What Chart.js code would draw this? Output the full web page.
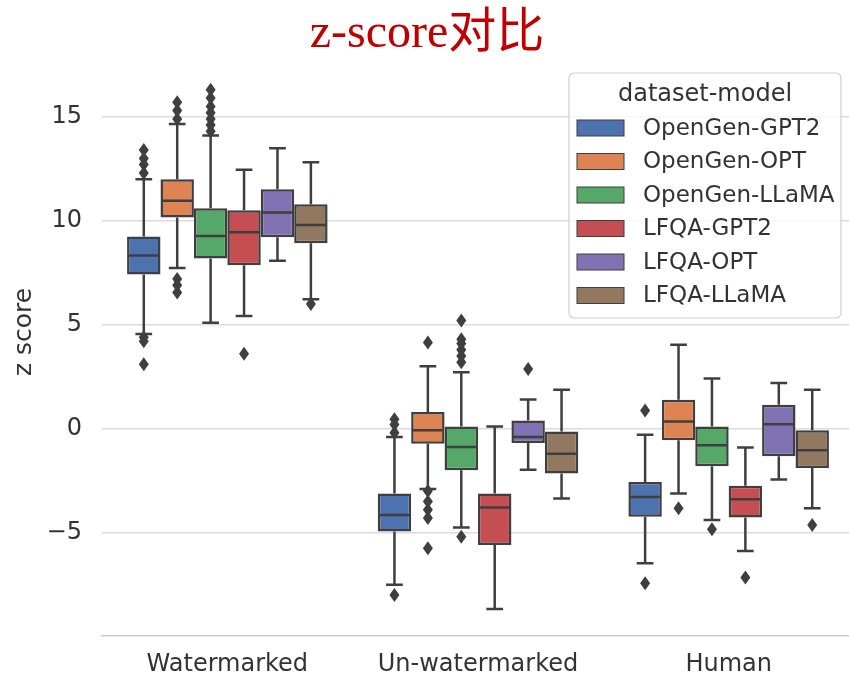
<!DOCTYPE html>
<html>
<head>
<meta charset="utf-8">
<script src="https://cdn.jsdelivr.net/npm/chart.js@4.4.1/dist/chart.umd.min.js"></script>
<style>
  html, body { margin: 0; padding: 0; background: #fff; overflow: hidden; }
  #wrap { width: 856px; height: 675px; position: relative; }
</style>
</head>
<body>
<div id="wrap"><canvas id="boxChart"></canvas></div>
<script>
// categories and hue series
const categories = ["Watermarked", "Un-watermarked", "Human"];
const seriesNames = ["OpenGen-GPT2", "OpenGen-OPT", "OpenGen-LLaMA", "LFQA-GPT2", "LFQA-OPT", "LFQA-LLaMA"];
const seriesColors = ["#4C72B0", "#DD8452", "#55A868", "#C44E52", "#8172B3", "#937860"];

// box statistics, [series][category]
const q1 = [
  [7.41, -4.95, -4.24],
  [10.16, -0.72, -0.56],
  [8.18, -2.0, -1.81],
  [7.86, -5.59, -4.27],
  [9.21, -0.69, -1.33],
  [8.92, -2.16, -1.89]
];
const median = [
  [8.33, -4.15, -3.28],
  [10.96, -0.08, 0.35],
  [9.27, -0.88, -0.8],
  [9.45, -3.79, -3.39],
  [10.4, -0.4, 0.21],
  [9.8, -1.2, -1.04]
];
const q3 = [
  [9.24, -3.12, -2.56],
  [12.0, 0.8, 1.39],
  [10.6, 0.11, 0.11],
  [10.5, -3.12, -2.75],
  [11.52, 0.4, 1.15],
  [10.8, -0.13, -0.08]
];
const whiskerLow = [
  [4.55, -7.5, -6.47],
  [7.73, -2.9, -3.12],
  [5.1, -4.75, -4.39],
  [5.42, -8.67, -5.88],
  [8.08, -1.97, -2.44],
  [6.22, -3.36, -3.83]
];
const whiskerHigh = [
  [12.0, -0.4, -0.29],
  [14.65, 3.0, 4.04],
  [14.1, 2.71, 2.42],
  [12.45, 0.11, -0.91],
  [13.49, 1.4, 2.2],
  [12.82, 1.87, 1.87]
];
const outliers = [
  [[12.3, 12.7, 13.0, 13.4, 4.4, 4.2, 3.1], [-0.2, 0.2, 0.45, -8.0], [0.88, -7.43]],
  [[14.9, 15.3, 15.7, 7.2, 6.9, 6.55], [4.15, -3.0, -3.5, -3.9, -4.3, -5.75], [-3.83]],
  [[14.3, 14.6, 14.9, 15.2, 15.5, 15.9, 16.3], [3.2, 3.5, 3.8, 4.1, 4.3, 5.2, -5.2], [-4.84]],
  [[3.6], [], [-7.16]],
  [[], [2.87], []],
  [[6.0], [], [-4.63]]
];
const yTicks = [-5, 0, 5, 10, 15];

const lineColor = "#3f3f3f";
const font = "'DejaVu Sans', sans-serif";

// whiskers, caps, medians and fliers on top of the floating bars
const boxExtras = {
  id: "boxExtras",
  afterDatasetsDraw(chart) {
    const ctx = chart.ctx;
    const y = chart.scales.y;
    ctx.save();
    ctx.strokeStyle = lineColor;
    ctx.fillStyle = lineColor;
    ctx.lineWidth = 2.5;
    chart.data.datasets.forEach((ds, s) => {
      const meta = chart.getDatasetMeta(s);
      meta.data.forEach((bar, c) => {
        const { x, width } = bar.getProps(["x", "width"], true);
        const half = width / 2;
        const cap = width / 4;
        const yq1 = y.getPixelForValue(q1[s][c]);
        const yq3 = y.getPixelForValue(q3[s][c]);
        const ylo = y.getPixelForValue(whiskerLow[s][c]);
        const yhi = y.getPixelForValue(whiskerHigh[s][c]);
        const ymed = y.getPixelForValue(median[s][c]);
        ctx.beginPath();
        ctx.moveTo(x, yq3); ctx.lineTo(x, yhi);
        ctx.moveTo(x, yq1); ctx.lineTo(x, ylo);
        ctx.moveTo(x - cap, yhi); ctx.lineTo(x + cap, yhi);
        ctx.moveTo(x - cap, ylo); ctx.lineTo(x + cap, ylo);
        ctx.moveTo(x - half + 1, ymed); ctx.lineTo(x + half - 1, ymed);
        ctx.stroke();
        outliers[s][c].forEach(v => {
          const py = y.getPixelForValue(v);
          ctx.beginPath();
          ctx.moveTo(x, py - 7);
          ctx.lineTo(x + 5, py);
          ctx.lineTo(x, py + 7);
          ctx.lineTo(x - 5, py);
          ctx.closePath();
          ctx.fill();
        });
      });
    });
    ctx.restore();
  }
};

// y axis title and the legend box
const decorations = {
  id: "decorations",
  afterDraw(chart) {
    const ctx = chart.ctx;
    ctx.save();
    ctx.fillStyle = "#333333";
    ctx.font = "25px " + font;
    ctx.textAlign = "center";
    ctx.textBaseline = "middle";
    ctx.translate(24, 332);
    ctx.rotate(-Math.PI / 2);
    ctx.fillText("z score", 0, 0);
    ctx.restore();

    // legend
    const lx = 569, ly = 73, lw = 272, lh = 245, r = 5;
    ctx.save();
    ctx.beginPath();
    ctx.moveTo(lx + r, ly);
    ctx.arcTo(lx + lw, ly, lx + lw, ly + lh, r);
    ctx.arcTo(lx + lw, ly + lh, lx, ly + lh, r);
    ctx.arcTo(lx, ly + lh, lx, ly, r);
    ctx.arcTo(lx, ly, lx + lw, ly, r);
    ctx.closePath();
    ctx.fillStyle = "rgba(255,255,255,0.8)";
    ctx.fill();
    ctx.strokeStyle = "#d0d0d0";
    ctx.lineWidth = 1.2;
    ctx.stroke();

    ctx.fillStyle = "#333333";
    ctx.font = "24px " + font;
    ctx.textAlign = "center";
    ctx.textBaseline = "middle";
    ctx.fillText("dataset-model", 705, 95);

    ctx.font = "23px " + font;
    ctx.textAlign = "left";
    chart.data.datasets.forEach((ds, i) => {
      const cy = 128 + i * 33.5;
      ctx.fillStyle = ds.backgroundColor;
      ctx.fillRect(577, cy - 8, 47, 16);
      ctx.strokeStyle = lineColor;
      ctx.lineWidth = 1;
      ctx.strokeRect(577, cy - 8, 47, 16);
      ctx.fillStyle = "#333333";
      ctx.fillText(ds.label, 643, cy + 1);
    });
    ctx.restore();
  }
};

const datasets = seriesNames.map((name, s) => ({
  label: name,
  data: categories.map((cat, c) => [q1[s][c], q3[s][c]]),
  backgroundColor: seriesColors[s],
  borderColor: lineColor,
  borderWidth: 2.5,
  borderSkipped: false,
  categoryPercentage: 0.8,
  barPercentage: 1.0
}));

new Chart(document.getElementById("boxChart").getContext("2d"), {
  type: "bar",
  data: { labels: categories, datasets },
  plugins: [boxExtras, decorations],
  options: {
    responsive: true,
    maintainAspectRatio: false,
    animation: false,
    layout: { padding: { top: 6, right: 2, bottom: 0, left: 0 } },
    plugins: {
      legend: { display: false },
      tooltip: { enabled: false },
      title: {
        display: true,
        text: "z-score对比",
        color: "#c00000",
        font: { family: "'Liberation Serif', 'Noto Sans CJK SC', serif", size: 48, weight: "normal" },
        padding: { top: 0, bottom: 6 }
      }
    },
    scales: {
      x: {
        afterFit: axis => { axis.height = 39; },
        grid: { display: false, drawTicks: false },
        border: { display: true, color: "#cccccc", width: 1.5 },
        ticks: { color: "#333333", font: { family: font, size: 24 }, padding: 14 }
      },
      y: {
        min: -9.97,
        max: 17.27,
        afterBuildTicks: axis => { axis.ticks = yTicks.map(v => ({ value: v })); },
        afterFit: axis => { axis.width = 102; },
        grid: { color: "#dcdcdc", lineWidth: 1.5, drawTicks: false },
        border: { display: false },
        ticks: {
          color: "#333333",
          font: { family: font, size: 24 },
          padding: 20,
          callback: v => (v < 0 ? "\u2212" + Math.abs(v) : String(v))
        }
      }
    }
  }
});
</script>
</body>
</html>
